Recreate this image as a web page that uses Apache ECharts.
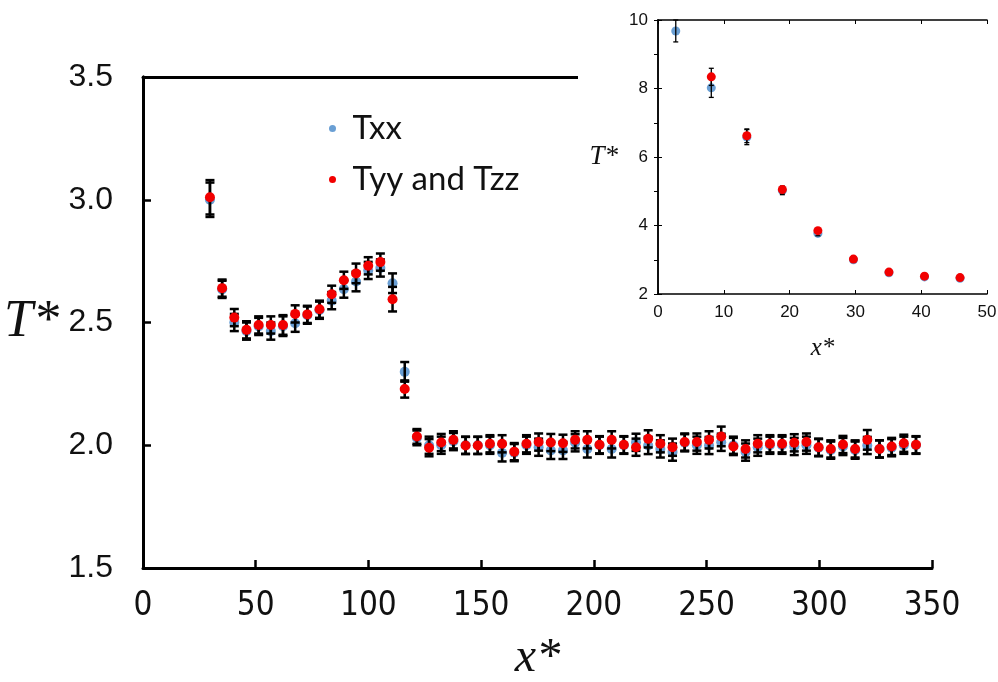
<!DOCTYPE html>
<html>
<head>
<meta charset="utf-8">
<script src="https://cdn.jsdelivr.net/npm/echarts@6/dist/echarts.min.js"></script>
<style>
html, body { margin: 0; padding: 0; background: #fff; }
#chart { width: 998px; height: 682px; }
</style>
</head>
<body>
<div id="chart"></div>
<script>
// main panel: x* positions and T* values
var xMain = [29.7, 35.1, 40.5, 45.9, 51.3, 56.7, 62.1, 67.5, 72.9, 78.3,
  83.7, 89.1, 94.5, 99.9, 105.3, 110.7, 116.1, 121.5, 126.9, 132.3,
  137.7, 143.1, 148.5, 153.9, 159.3, 164.7, 170.1, 175.5, 180.9, 186.3,
  191.7, 197.1, 202.5, 207.9, 213.3, 218.7, 224.1, 229.5, 234.9, 240.3,
  245.7, 251.1, 256.5, 261.9, 267.3, 272.7, 278.1, 283.5, 288.9, 294.3,
  299.7, 305.1, 310.5, 315.9, 321.3, 326.7, 332.1, 337.5, 342.9];
var txxMain = [3.00, 2.635, 2.50, 2.465, 2.484, 2.465, 2.485, 2.497, 2.53, 2.55,
  2.589, 2.636, 2.667, 2.712, 2.722, 2.66, 2.299, 2.03, 2.00, 2.00,
  2.015, 2.00, 2.00, 2.00, 1.969, 1.97, 2.00, 1.992, 1.979, 1.979,
  2.01, 1.985, 2.00, 1.985, 2.00, 2.012, 1.999, 1.985, 1.972, 2.01,
  2.00, 1.999, 2.012, 2.00, 1.972, 1.992, 2.00, 2.00, 1.995, 2.00,
  1.99, 1.98, 1.995, 1.98, 1.999, 1.985, 1.99, 2.00, 2.00];
var tyyMain = [3.01, 2.64, 2.52, 2.47, 2.49, 2.49, 2.49, 2.535, 2.533, 2.554,
  2.615, 2.672, 2.70, 2.731, 2.746, 2.595, 2.229, 2.036, 1.99, 2.011,
  2.022, 1.999, 1.999, 2.006, 2.006, 1.974, 2.006, 2.013, 2.011, 2.008,
  2.022, 2.022, 2.002, 2.022, 2.002, 1.992, 2.026, 2.006, 1.992, 2.013,
  2.013, 2.022, 2.036, 1.995, 1.985, 2.006, 2.006, 2.006, 2.01, 2.013,
  1.992, 1.985, 2.003, 1.985, 2.022, 1.985, 1.995, 2.008, 2.002];
var errTxx = [0.07, 0.035, 0.035, 0.035, 0.035, 0.035, 0.04, 0.035, 0.035, 0.035,
  0.035, 0.035, 0.04, 0.035, 0.035, 0.04, 0.04, 0.03, 0.035, 0.035,
  0.035, 0.035, 0.035, 0.035, 0.035, 0.035, 0.035, 0.035, 0.035, 0.035,
  0.035, 0.035, 0.035, 0.035, 0.035, 0.035, 0.035, 0.035, 0.035, 0.035,
  0.035, 0.035, 0.035, 0.035, 0.035, 0.035, 0.035, 0.035, 0.035, 0.035,
  0.035, 0.035, 0.035, 0.035, 0.035, 0.035, 0.035, 0.035, 0.035];
var errTyy = [0.07, 0.035, 0.035, 0.035, 0.035, 0.035, 0.04, 0.035, 0.035, 0.035,
  0.035, 0.035, 0.04, 0.035, 0.035, 0.05, 0.035, 0.03, 0.035, 0.035,
  0.035, 0.035, 0.035, 0.035, 0.035, 0.035, 0.035, 0.035, 0.035, 0.035,
  0.035, 0.035, 0.035, 0.035, 0.035, 0.035, 0.035, 0.035, 0.035, 0.035,
  0.035, 0.035, 0.04, 0.035, 0.035, 0.035, 0.035, 0.035, 0.035, 0.035,
  0.035, 0.035, 0.035, 0.035, 0.04, 0.035, 0.035, 0.035, 0.035];

// inset panel
var xInset = [2.7, 8.1, 13.5, 18.9, 24.3, 29.7, 35.1, 40.5, 45.9];
var txxInset = [9.68, 8.02, 6.58, 5.02, 3.77, 3.00, 2.62, 2.50, 2.46];
var tyyInset = [null, 8.34, 6.62, 5.05, 3.85, 3.02, 2.64, 2.52, 2.48];
var errTxxInset = [0.32, 0.28, 0.22, 0.12, 0.07, 0.03, 0.03, 0.03, 0.03];
var errTyyInset = [null, 0.25, 0.2, 0.1, 0.05, 0.03, 0.03, 0.03, 0.03];

var BLUE = "#6a9fd4";
var RED = "#f20000";

function points(xs, ys) {
  var out = [];
  for (var i = 0; i < xs.length; i++) {
    if (ys[i] != null) out.push([xs[i], ys[i]]);
  }
  return out;
}
function bars(xs, ys, es) {
  var out = [];
  for (var i = 0; i < xs.length; i++) {
    if (ys[i] != null) out.push([xs[i], ys[i] - es[i], ys[i] + es[i]]);
  }
  return out;
}
function errorBar(cap, lw) {
  return function (params, api) {
    var top = api.coord([api.value(0), api.value(2)]);
    var bot = api.coord([api.value(0), api.value(1)]);
    var st = { stroke: "#000", lineWidth: lw };
    return {
      type: "group",
      children: [
        { type: "line", shape: { x1: top[0], y1: top[1], x2: bot[0], y2: bot[1] }, style: st },
        { type: "line", shape: { x1: top[0] - cap, y1: top[1], x2: top[0] + cap, y2: top[1] }, style: st },
        { type: "line", shape: { x1: bot[0] - cap, y1: bot[1], x2: bot[0] + cap, y2: bot[1] }, style: st }
      ]
    };
  };
}

var chart = echarts.init(document.getElementById("chart"));

var frame = { lineStyle: { color: "#000", width: 3 } };
var frameThin = { lineStyle: { color: "#000", width: 1.5 } };

var option = {
  animation: false,
  backgroundColor: "#fff",
  grid: [
    { left: 143, top: 77, right: 66, bottom: 114, outerBoundsMode: "none", containLabel: false },
    { left: 658, top: 20, right: 11, bottom: 388, z: 6, outerBoundsMode: "none", containLabel: false }
  ],
  legend: {
    data: ["Txx", "Tyy and Tzz"],
    orient: "vertical",
    left: 324,
    top: 107,
    itemWidth: 30,
    itemHeight: 7,
    itemGap: 18,
    icon: "circle",
    textStyle: { fontFamily: "Lato", fontSize: 33, color: "#111", lineHeight: 33 }
  },
  graphic: [
    { type: "rect", z: 5, left: 578, top: 0, shape: { width: 420, height: 374 }, style: { fill: "#fff" } }
  ],
  xAxis: [
    {
      gridIndex: 0, type: "value", min: 0, max: 350, interval: 50,
      axisLine: frame,
      axisTick: { inside: true, length: 8, lineStyle: { color: "#000", width: 2.5 } },
      splitLine: { show: false },
      axisLabel: { color: "#111", fontFamily: "'DejaVu Sans Condensed', 'Liberation Sans', sans-serif", fontSize: 33, margin: 22 },
      name: "x*", nameLocation: "middle", nameGap: 66,
      nameTextStyle: { fontFamily: "Liberation Serif", fontStyle: "italic", fontSize: 48, color: "#111" }
    },
    {
      gridIndex: 0, type: "value", position: "top", min: 0, max: 350,
      axisLine: frame, axisTick: { show: false }, axisLabel: { show: false }, splitLine: { show: false }
    },
    {
      gridIndex: 1, type: "value", min: 0, max: 50, interval: 10, z: 6,
      axisLine: frameThin,
      axisTick: { inside: true, length: 4, lineStyle: { color: "#000", width: 1 } },
      splitLine: { show: false },
      axisLabel: { color: "#111", fontFamily: "Liberation Sans", fontSize: 17, margin: 10 },
      name: "x*", nameLocation: "middle", nameGap: 42,
      nameTextStyle: { fontFamily: "Liberation Serif", fontStyle: "italic", fontSize: 25, color: "#111" }
    },
    {
      gridIndex: 1, type: "value", position: "top", min: 0, max: 50, interval: 10, z: 6,
      axisLine: frameThin,
      axisTick: { inside: true, length: 4, lineStyle: { color: "#000", width: 1 } },
      axisLabel: { show: false }, splitLine: { show: false }
    }
  ],
  yAxis: [
    {
      gridIndex: 0, type: "value", min: 1.5, max: 3.5, interval: 0.5,
      axisLine: frame,
      axisTick: { inside: true, length: 8, lineStyle: { color: "#000", width: 2.5 } },
      splitLine: { show: false },
      axisLabel: {
        color: "#111", fontFamily: "Liberation Sans", fontSize: 32, margin: 30,
        formatter: function (v) { return v.toFixed(1); }
      },
      name: "T*", nameLocation: "middle", nameRotate: 0, nameGap: 84,
      nameTextStyle: { fontFamily: "Liberation Serif", fontStyle: "italic", fontSize: 52, color: "#111", padding: [10, 0, 0, 0] }
    },
    {
      gridIndex: 0, type: "value", position: "right", min: 1.5, max: 3.5,
      axisLine: frame, axisTick: { show: false }, axisLabel: { show: false }, splitLine: { show: false }
    },
    {
      gridIndex: 1, type: "value", min: 2, max: 10, interval: 2, z: 6,
      axisLine: frameThin,
      axisTick: { inside: true, length: 4, lineStyle: { color: "#000", width: 1 } },
      splitLine: { show: false },
      axisLabel: { color: "#111", fontFamily: "Liberation Sans", fontSize: 17, margin: 10 },
      name: "T*", nameLocation: "middle", nameRotate: 0, nameGap: 40,
      nameTextStyle: { fontFamily: "Liberation Serif", fontStyle: "italic", fontSize: 27, color: "#111" }
    },
    {
      gridIndex: 1, type: "value", position: "right", min: 2, max: 10, interval: 1, z: 6,
      axisLine: frameThin,
      axisTick: { inside: true, length: 4, lineStyle: { color: "#000", width: 1 } },
      axisLabel: { show: false }, splitLine: { show: false }
    }
  ],
  series: [
    {
      name: "Txx", type: "scatter", xAxisIndex: 0, yAxisIndex: 0, z: 2,
      symbolSize: 10, itemStyle: { color: BLUE, opacity: 1 }, data: points(xMain, txxMain)
    },
    {
      type: "custom", xAxisIndex: 0, yAxisIndex: 0, z: 3,
      renderItem: errorBar(4.5, 2.5), encode: { x: 0, y: [1, 2] }, data: bars(xMain, txxMain, errTxx)
    },
    {
      type: "custom", xAxisIndex: 0, yAxisIndex: 0, z: 3,
      renderItem: errorBar(4.5, 2.5), encode: { x: 0, y: [1, 2] }, data: bars(xMain, tyyMain, errTyy)
    },
    {
      name: "Tyy and Tzz", type: "scatter", xAxisIndex: 0, yAxisIndex: 0, z: 4,
      symbolSize: 10, itemStyle: { color: RED, opacity: 1 }, data: points(xMain, tyyMain)
    },
    {
      name: "Txx", type: "scatter", xAxisIndex: 2, yAxisIndex: 2, z: 7,
      symbolSize: 9, itemStyle: { color: BLUE, opacity: 1 }, data: points(xInset, txxInset)
    },
    {
      type: "custom", xAxisIndex: 2, yAxisIndex: 2, z: 8,
      renderItem: errorBar(2.5, 1.3), encode: { x: 0, y: [1, 2] }, data: bars(xInset, txxInset, errTxxInset)
    },
    {
      type: "custom", xAxisIndex: 2, yAxisIndex: 2, z: 8,
      renderItem: errorBar(2.5, 1.3), encode: { x: 0, y: [1, 2] }, data: bars(xInset, tyyInset, errTyyInset)
    },
    {
      name: "Tyy and Tzz", type: "scatter", xAxisIndex: 2, yAxisIndex: 2, z: 9,
      symbolSize: 9, itemStyle: { color: RED, opacity: 1 }, data: points(xInset, tyyInset)
    }
  ]
};

chart.setOption(option);
</script>
</body>
</html>
